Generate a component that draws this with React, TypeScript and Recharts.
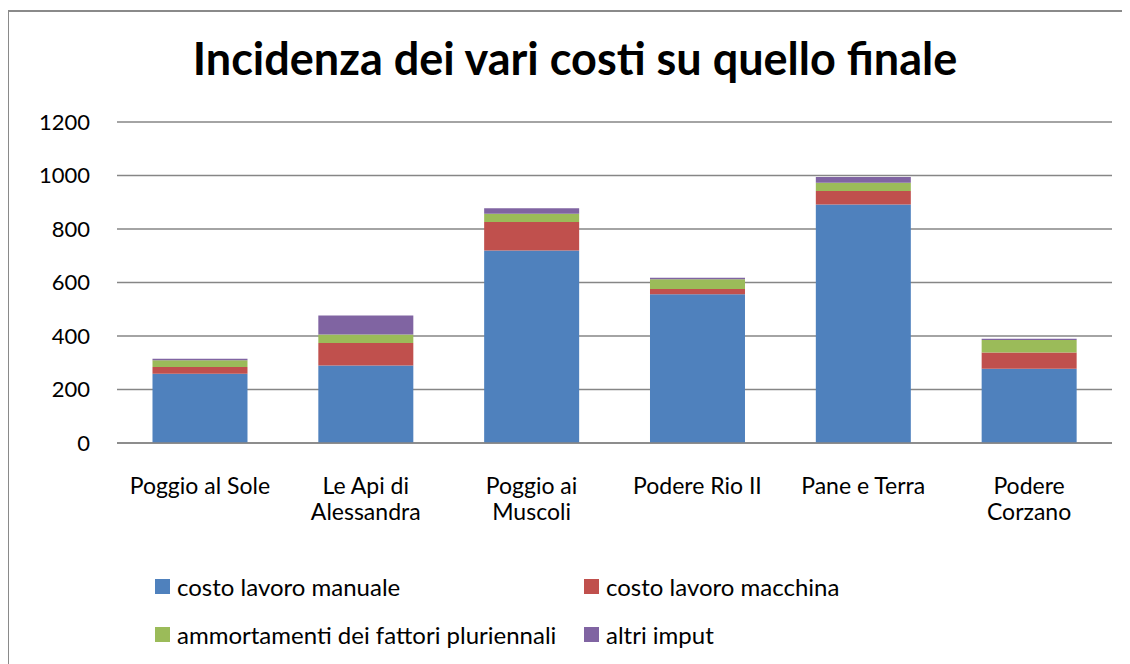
import React from 'react';
import { BarChart, Bar, XAxis, YAxis, CartesianGrid, Legend } from 'recharts';

const categories = [
  'Poggio al Sole',
  'Le Api di Alessandra',
  'Poggio ai Muscoli',
  'Podere Rio II',
  'Pane e Terra',
  'Podere Corzano',
];

// how Excel wrapped the category labels
const categoryLines = [
  ['Poggio al Sole'],
  ['Le Api di', 'Alessandra'],
  ['Poggio ai', 'Muscoli'],
  ['Podere Rio II'],
  ['Pane e Terra'],
  ['Podere', 'Corzano'],
];

const manuale = [259, 290, 720, 556, 892, 278];
const macchina = [25, 84, 106, 20, 50, 60];
const ammortamenti = [25, 32, 31, 36, 31, 47];
const altri = [6, 71, 21, 6, 21, 5];

const yTicks = [0, 200, 400, 600, 800, 1000, 1200];

const series = [
  { key: 'manuale', name: 'costo lavoro manuale', color: '#4F81BD' },
  { key: 'macchina', name: 'costo lavoro macchina', color: '#C0504D' },
  { key: 'ammortamenti', name: 'ammortamenti dei fattori pluriennali', color: '#9BBB59' },
  { key: 'altri', name: 'altri imput', color: '#8064A2' },
];

const data = categories.map((name, i) => ({
  name,
  manuale: manuale[i],
  macchina: macchina[i],
  ammortamenti: ammortamenti[i],
  altri: altri[i],
}));

const FONT = 'Lato, sans-serif';

const CategoryTick = (props: any) => {
  const { x, y, index } = props;
  const lines = categoryLines[index] || [];
  return (
    <text x={x} y={y} textAnchor="middle" fontFamily={FONT} fontSize={23} fill="#000">
      {lines.map((l, i) => (
        <tspan key={i} x={x} dy={i === 0 ? 49 : 26}>
          {l}
        </tspan>
      ))}
    </text>
  );
};

// legend positions copied from the Excel layout (2 x 2 grid)
const legendPos = [
  { left: 147, top: 571 },
  { left: 576, top: 571 },
  { left: 147, top: 619 },
  { left: 576, top: 619 },
];

const LegendBox = () => (
  <div style={{ position: 'relative', width: 1114, height: 656 }}>
    {series.map((s, i) => (
      <div
        key={s.key}
        style={{
          position: 'absolute',
          left: legendPos[i].left,
          top: legendPos[i].top,
          display: 'flex',
          alignItems: 'center',
          whiteSpace: 'nowrap',
          height: 15,
          fontFamily: FONT,
          fontSize: 24,
          color: '#000',
        }}
      >
        <span style={{ width: 15, height: 15, background: s.color, marginRight: 7, display: 'inline-block' }} />
        {s.name}
      </div>
    ))}
  </div>
);

export default function App() {
  return (
    <div style={{ position: 'relative', width: 1114, height: 656 }}>
      <div
        style={{
          position: 'absolute',
          left: -1,
          top: 2,
          width: 1118,
          height: 652,
          borderLeft: '2px solid #8a8a8a',
          borderTop: '2px solid #8a8a8a',
        }}
      />
      <div
        style={{
          position: 'absolute',
          left: 0,
          top: 24,
          width: 1134,
          textAlign: 'center',
          fontFamily: FONT,
          fontWeight: 'bold',
          fontSize: 45,
          color: '#000',
          lineHeight: '52px',
        }}
      >
        Incidenza dei vari costi su quello finale
      </div>
      <BarChart
        width={1114}
        height={656}
        data={data}
        margin={{ top: 114, right: 10, left: 0, bottom: 161 }}
        barCategoryGap="21.4%"
        style={{ position: 'absolute', left: 0, top: 0 }}
      >
        <CartesianGrid vertical={false} stroke="#868686" strokeWidth={1.5} />
        <XAxis
          dataKey="name"
          height={60}
          tickLine={false}
          tickSize={0}
          axisLine={{ stroke: '#868686', strokeWidth: 1.5 }}
          tick={<CategoryTick />}
          interval={0}
        />
        <YAxis
          width={109}
          domain={[0, 1200]}
          ticks={yTicks}
          tickLine={false}
          axisLine={false}
          tickSize={0}
          tickMargin={27}
          tick={{ fontFamily: FONT, fontSize: 22, fill: '#000' }}
        />
        <Legend
          layout="horizontal"
          verticalAlign="middle"
          align="center"
          wrapperStyle={{ top: 0, left: 0, width: 1114, height: 656 }}
          content={<LegendBox />}
        />
        {series.map((s) => (
          <Bar
            key={s.key}
            dataKey={s.key}
            name={s.name}
            stackId="a"
            fill={s.color}
            isAnimationActive={false}
          />
        ))}
      </BarChart>
    </div>
  );
}
